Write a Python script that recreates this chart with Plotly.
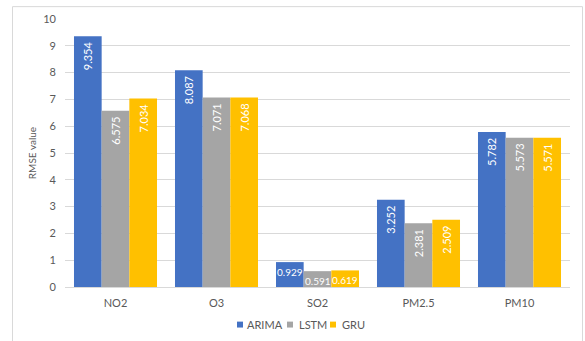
import plotly.graph_objects as go

# RMSE of each forecasting model per pollutant
pollutants = ["NO2", "O3", "SO2", "PM2.5", "PM10"]
arima = [9.354, 8.087, 0.929, 3.252, 5.782]
lstm = [6.575, 7.071, 0.591, 2.381, 5.573]
gru = [7.034, 7.068, 0.619, 2.509, 5.571]
models = ["ARIMA", "LSTM", "GRU"]
colors = ["#4472C4", "#A5A5A5", "#FFC000"]
y_ticks = list(range(0, 11))

FONT = "Lato"
TXT = "#595959"
W, H = 585, 341
L, R, T, B = 65, 15, 16, 54
PW, PH = W - L - R, H - T - B

def px_x(px):
    return (px - L) / PW

def px_y(py):
    return (H - B - py) / PH

bar_w = 0.274
offsets = [-1.5 * bar_w, -0.5 * bar_w, 0.5 * bar_w]
series = [arima, lstm, gru]

fig = go.Figure()
for name, vals, col, off in zip(models, series, colors, offsets):
    # trailing no-break space keeps the rotated label a little below the bar top
    labels = ["" if p == "SO2" else f"{v:.3f}\u00a0" for p, v in zip(pollutants, vals)]
    fig.add_trace(go.Bar(
        x=pollutants, y=vals, name=name, width=bar_w, offset=off,
        marker=dict(color=col, line=dict(width=0)),
        text=labels, textposition="inside", insidetextanchor="end",
        textangle=-90, textfont=dict(color="white", size=11, family=FONT),
        showlegend=False, hoverinfo="skip",
    ))

# Short SO2 bars carry horizontal labels
so2_idx = pollutants.index("SO2")
annotations = []
for vals, off in zip(series, offsets):
    annotations.append(dict(
        x=so2_idx + off + bar_w / 2, y=vals[so2_idx], xref="x", yref="y",
        text=f"{vals[so2_idx]:.3f}", showarrow=False, yanchor="top", yshift=-2,
        font=dict(color="white", size=10, family=FONT),
    ))

# Legend row below the axis
shapes = []
legend_items = [(237, 245), (287, 297), (330, 340)]
for (sq_x, tx_x), name, col in zip(legend_items, models, colors):
    shapes.append(dict(type="rect", xref="paper", yref="paper",
                       x0=px_x(sq_x), x1=px_x(sq_x + 6),
                       y0=px_y(328), y1=px_y(322),
                       fillcolor=col, line=dict(width=0)))
    annotations.append(dict(x=px_x(tx_x), y=px_y(325), xref="paper", yref="paper",
                            text=name, showarrow=False, xanchor="left", yanchor="middle",
                            font=dict(color=TXT, size=11, family=FONT)))

# Chart frame
shapes.append(dict(type="rect", xref="paper", yref="paper",
                   x0=px_x(12.5), x1=px_x(582.5), y0=px_y(350), y1=px_y(3.5),
                   line=dict(color="#D9D9D9", width=1), fillcolor="rgba(0,0,0,0)",
                   layer="below"))

fig.update_layout(
    width=W, height=H, margin=dict(l=L, r=R, t=T, b=B),
    paper_bgcolor="white", plot_bgcolor="white",
    barmode="overlay", uniformtext=dict(mode=False),
    font=dict(family=FONT, color=TXT, size=11),
    xaxis=dict(showgrid=False, showline=True, linecolor="#D9D9D9", linewidth=1,
               ticks="", tickfont=dict(size=11, color=TXT), ticklabelstandoff=6),
    yaxis=dict(range=[0, 10], tickvals=y_ticks, showgrid=True, gridcolor="#D9D9D9",
               gridwidth=1, zeroline=False, showline=False, ticks="",
               tickfont=dict(size=11, color=TXT), ticklabelstandoff=8,
               title=dict(text="RMSE value", font=dict(size=10, color=TXT), standoff=4)),
    shapes=shapes, annotations=annotations, showlegend=False,
)
fig.update_traces(cliponaxis=False)
fig.write_html("out.html")
